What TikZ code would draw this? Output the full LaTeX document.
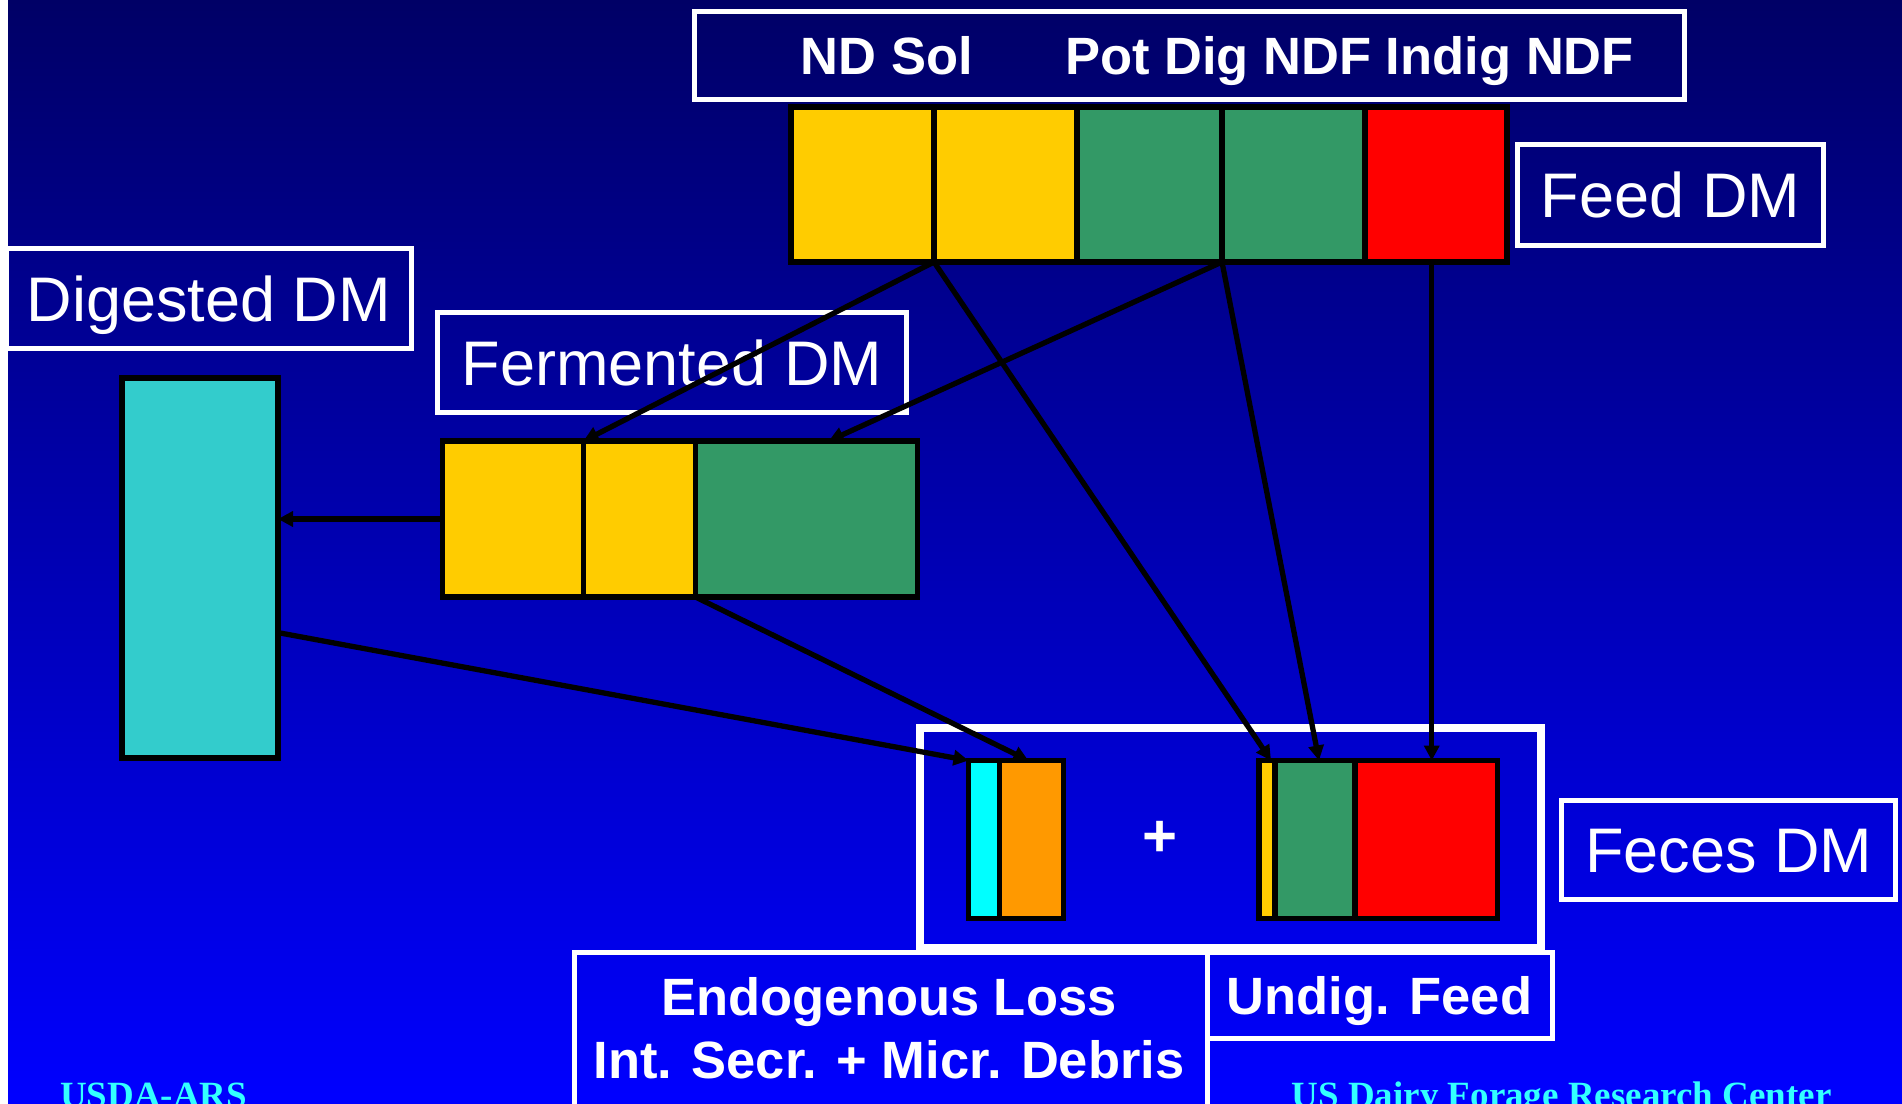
\documentclass[tikz,border=0pt]{standalone}
\usepackage{fontspec}
\setmainfont{Liberation Sans}
\newfontfamily\footfont{Liberation Serif}
\usetikzlibrary{arrows.meta,calc}
\definecolor{bgtop}{RGB}{0,0,102}
\definecolor{bgmid}{RGB}{0,0,200}
\definecolor{bgbot}{RGB}{0,0,255}
\definecolor{yel}{HTML}{FFCC00}
\definecolor{grn}{HTML}{339966}
\definecolor{redc}{HTML}{FF0000}
\definecolor{tealc}{HTML}{33CCCC}
\definecolor{cyanc}{HTML}{00FFFF}
\definecolor{orng}{HTML}{FF9900}
\definecolor{foot}{RGB}{51,255,255}
\tikzset{
  seg/.style={draw=black, line width=5.5pt, inner sep=0pt, outer sep=0pt},
  lbox/.style={draw=white, line width=5pt, inner sep=0pt, outer sep=0pt, text=white},
  regtxt/.style={font=\fontsize{63}{75}\selectfont, text height=45.1pt, text depth=0pt},
  boldtxt/.style={font=\fontsize{52.5}{62.5}\selectfont\bfseries},
  conn/.style={draw=black, line width=5.3pt, -{Triangle[length=15pt,width=15pt]}},
}
\begin{document}
\begin{tikzpicture}[x=1pt,y=-1pt]
\useasboundingbox (0,0) rectangle (1902,1103);
\clip (0,0) rectangle (1902,1103);
% background
\fill[white] (0,0) rectangle (8,1103);
\shade[top color=bgtop, middle color=bgmid, bottom color=bgbot] (8,0) rectangle (1902,1103);

% label boxes
\node[lbox, minimum width=990pt, minimum height=88.5pt] (toplab) at (1189,55.25) {};
\node[text=white, boldtxt, inner sep=0pt, anchor=base west] (ndsol) at (800.5,74.5) {ND Sol};
\node[text=white, boldtxt, inner sep=0pt, anchor=base west] (ndf) at (1065,74.5) {Pot Dig NDF Indig NDF};
\node[lbox, regtxt, minimum width=306pt, minimum height=101pt] (feedlab) at (1670.5,195) {Feed DM};
\node[lbox, regtxt, minimum width=405.5pt, minimum height=100pt] (diglab) at (208.75,298.5) {Digested DM};
\node[lbox, regtxt, minimum width=469pt, minimum height=100pt] (fermlab) at (672,362.5) {Fermented DM};
\node[lbox, regtxt, minimum width=334pt, minimum height=99pt] (feceslab) at (1728.5,850) {Feces DM};
\node[lbox, line width=8pt, minimum width=621pt, minimum height=220pt] (fecesbox) at (1230.5,838) {};
\node[lbox, minimum width=632.5pt, minimum height=162.5pt] (endobox) at (890.75,1033.75) {};
\node[text=white, boldtxt, inner sep=0pt, anchor=base] (endotxt) at (889,1015.5)
  {\begin{tabular}[t]{@{}c@{}}Endogenous Loss\\Int. Secr. + Micr. Debris\end{tabular}};
\node[lbox, boldtxt, text height=37.6pt, text depth=0pt, minimum width=345pt, minimum height=85.5pt] (undiglab) at (1379.5,995.25) {Undig. Feed};

% feed bar
\node[seg, fill=yel, minimum width=143pt, minimum height=155pt] (fa) at (862.5,184.5) {};
\node[seg, fill=yel, minimum width=143pt, minimum height=155pt] (fb) at (1005.5,184.5) {};
\node[seg, fill=grn, minimum width=145pt, minimum height=155pt] (fc) at (1149.5,184.5) {};
\node[seg, fill=grn, minimum width=143pt, minimum height=155pt] (fd) at (1293.5,184.5) {};
\node[seg, fill=redc, minimum width=142pt, minimum height=155pt] (fe) at (1436,184.5) {};

% fermented bar
\node[seg, fill=yel, minimum width=141pt, minimum height=156pt] (ma) at (513,519) {};
\node[seg, fill=yel, minimum width=112pt, minimum height=156pt] (mb) at (639.5,519) {};
\node[seg, fill=grn, minimum width=222pt, minimum height=156pt] (mc) at (806.5,519) {};

% digested bar
\node[seg, fill=tealc, minimum width=156pt, minimum height=380pt] (cy) at (200,568) {};

% endogenous bar
\node[seg, fill=cyanc, minimum width=31pt, minimum height=158pt] (ea) at (984,839.5) {};
\node[seg, fill=orng, minimum width=64pt, minimum height=158pt] (eb) at (1031.5,839.5) {};

% undigested bar
\node[seg, fill=yel, minimum width=16pt, minimum height=158pt] (ua) at (1267,839.5) {};
\node[seg, fill=grn, minimum width=80pt, minimum height=158pt] (ub) at (1315,839.5) {};
\node[seg, fill=redc, minimum width=142.5pt, minimum height=158pt] (uc) at (1426.25,839.5) {};

\node[text=white, font=\fontsize{60}{70}\selectfont\bfseries, inner sep=0pt] (plus) at (1160,839) {+};

% connectors
\coordinate (redout) at ($(fe.south west)!0.47!(fe.south east)$);
\draw[conn] (fa.south east) -- (ma.north east);
\draw[conn] (fc.south east) -- ($(mc.north west)!0.6!(mc.north east)$);
\draw[conn] (fa.south east) -- ($(ua.north)!0.5!(ua.north east)$);
\draw[conn] (fc.south east) -- ($(ub.north west)!0.55!(ub.north east)$);
\draw[conn] (redout) -- (redout |- uc.north);
\draw[conn] (ma.west) -- (ma.west -| cy.east);
\draw[conn] ($(cy.north east)!0.67!(cy.south east)$) -- (ea.north west);
\draw[conn] (mb.south east) -- ($(eb.north west)!0.45!(eb.north east)$);

% footers (cut off at the bottom edge, as in the original slide)
\node[text=foot, font=\footfont\bfseries\fontsize{37}{44}\selectfont, inner sep=0pt, anchor=base west] (usda) at (60,1107.5) {USDA-ARS};
\node[text=foot, font=\footfont\bfseries\fontsize{37}{44}\selectfont, inner sep=0pt, anchor=base west] (usdfrc) at (1291.5,1107.5) {US Dairy Forage Research Center};
\end{tikzpicture}
\end{document}
